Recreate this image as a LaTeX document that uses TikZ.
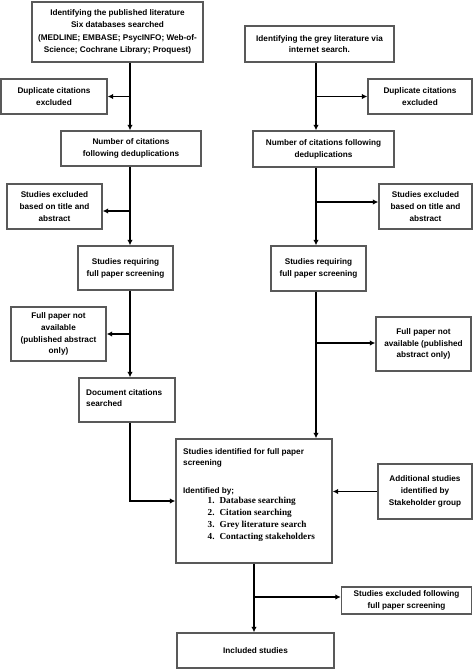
\documentclass[tikz,border=0pt]{standalone}
\usepackage{fontspec}
\setmainfont{Liberation Sans}
\newfontfamily\listserif{Liberation Serif}
\usetikzlibrary{arrows.meta}
\begin{document}
\begin{tikzpicture}[x=1pt,y=-1pt,
  box/.style={draw=black!65, line width=1.4pt, align=center, inner sep=0pt,
    font=\fontsize{8.2}{11.8}\selectfont\bfseries},
  con/.style={line width=1.1pt, draw=black},
  arr/.style={con, -{Latex[length=5.5pt,width=5.5pt]}},
  txt/.style={inner sep=0pt, align=left, font=\fontsize{8.2}{11.8}\selectfont\bfseries}]
\useasboundingbox (0,0) rectangle (473,669);
\fill[white] (0,0) rectangle (473,669);
% column guides
\coordinate (cL) at (130,0);
\coordinate (cR) at (316,0);
\coordinate (cB) at (254,0);
% boxes
\node[box, minimum width=171pt, minimum height=60pt, font=\fontsize{8.2}{12.4}\selectfont\bfseries] (A) at (117.5,32)
  {Identifying the published literature\\Six databases searched\\(MEDLINE; EMBASE; PsycINFO; Web-of-\\Science; Cochrane Library; Proquest)};
\node[box, minimum width=149pt, minimum height=36pt] (B) at (319.5,44)
  {Identifying the grey literature via\\internet search.};
\node[box, minimum width=106pt, minimum height=35pt] (DL) at (54,96.5)
  {Duplicate citations\\excluded};
\node[box, minimum width=104pt, minimum height=35pt] (DR) at (420,96.5)
  {Duplicate citations\\excluded};
\node[box, minimum width=140pt, minimum height=35pt] (NL) at (131,148.5)
  {Number of citations\\following deduplications};
\node[box, minimum width=141pt, minimum height=36pt] (NR) at (323.5,149)
  {Number of citations following\\deduplications};
\node[box, minimum width=95pt, minimum height=45pt] (EL) at (54.5,206.5)
  {Studies excluded\\based on title and\\abstract};
\node[box, minimum width=93pt, minimum height=45pt] (ER) at (425.5,206.5)
  {Studies excluded\\based on title and\\abstract};
\node[box, minimum width=95pt, minimum height=44pt] (RL) at (125.5,268)
  {Studies requiring\\full paper screening};
\node[box, minimum width=95pt, minimum height=45pt] (RR) at (318.5,268.5)
  {Studies requiring\\full paper screening};
\node[box, minimum width=95pt, minimum height=54pt] (FL) at (58.5,334)
  {Full paper not\\available\\(published abstract\\only)};
\node[box, minimum width=95pt, minimum height=54pt] (FR) at (423.5,344)
  {Full paper not\\available (published\\abstract only)};
\node[box, minimum width=96pt, minimum height=44pt] (DC) at (127,400) {};
\node[txt, anchor=west] (DCt) at (86,398) {Document citations\\searched};
\node[box, minimum width=156pt, minimum height=124pt] (BIG) at (254,501) {};
\node[txt, anchor=north west] (BIGt) at (183,448)
  {Studies identified for full paper\\screening\\[16pt]Identified by;};
\node[inner sep=0pt, anchor=north west, font=\fontsize{9.2}{12}\selectfont\listserif\bfseries] (BIGl) at (207.5,495)
  {\begin{tabular}{@{}l@{\hspace{5pt}}l@{}}
   1. & Database searching\\
   2. & Citation searching\\
   3. & Grey literature search\\
   4. & Contacting stakeholders
   \end{tabular}};
\node[box, minimum width=94pt, minimum height=55pt] (ADD) at (425,491.5)
  {Additional studies\\identified by\\Stakeholder group};
\node[box, minimum width=130pt, minimum height=27pt] (EX) at (406.5,600.5)
  {Studies excluded following\\full paper screening};
\node[box, minimum width=157pt, minimum height=35pt] (INC) at (255.5,650.5)
  {Included studies};
% branch points
\coordinate (bL1) at (130,96.5);
\coordinate (bR1) at (316,96.5);
\coordinate (bL2) at (130,211);
\coordinate (bR2) at (316,202);
\coordinate (bL3) at (130,334);
\coordinate (bR3) at (316,343);
\coordinate (bLc) at (130,501);
\coordinate (bB) at (254,597);
% left column
\draw[arr] (A.south -| cL) -- (NL.north -| cL);
\draw[arr] (bL1) -- (DL.east |- bL1);
\draw[arr] (NL.south -| cL) -- (RL.north -| cL);
\draw[arr] (bL2) -- (EL.east |- bL2);
\draw[arr] (RL.south -| cL) -- (DC.north -| cL);
\draw[arr] (bL3) -- (FL.east |- bL3);
\draw[arr] (DC.south -| cL) -- (bLc) -- (BIG.west |- bLc);
% right column
\draw[arr] (B.south -| cR) -- (NR.north -| cR);
\draw[arr] (bR1) -- (DR.west |- bR1);
\draw[arr] (NR.south -| cR) -- (RR.north -| cR);
\draw[arr] (bR2) -- (ER.west |- bR2);
\draw[arr] (RR.south -| cR) -- (BIG.north -| cR);
\draw[arr] (bR3) -- (FR.west |- bR3);
% bottom
\draw[arr] (ADD.west) -- (BIG.east |- ADD.west);
\draw[arr] (BIG.south -| cB) -- (INC.north -| cB);
\draw[arr] (bB) -- (EX.west |- bB);
\end{tikzpicture}
\end{document}
